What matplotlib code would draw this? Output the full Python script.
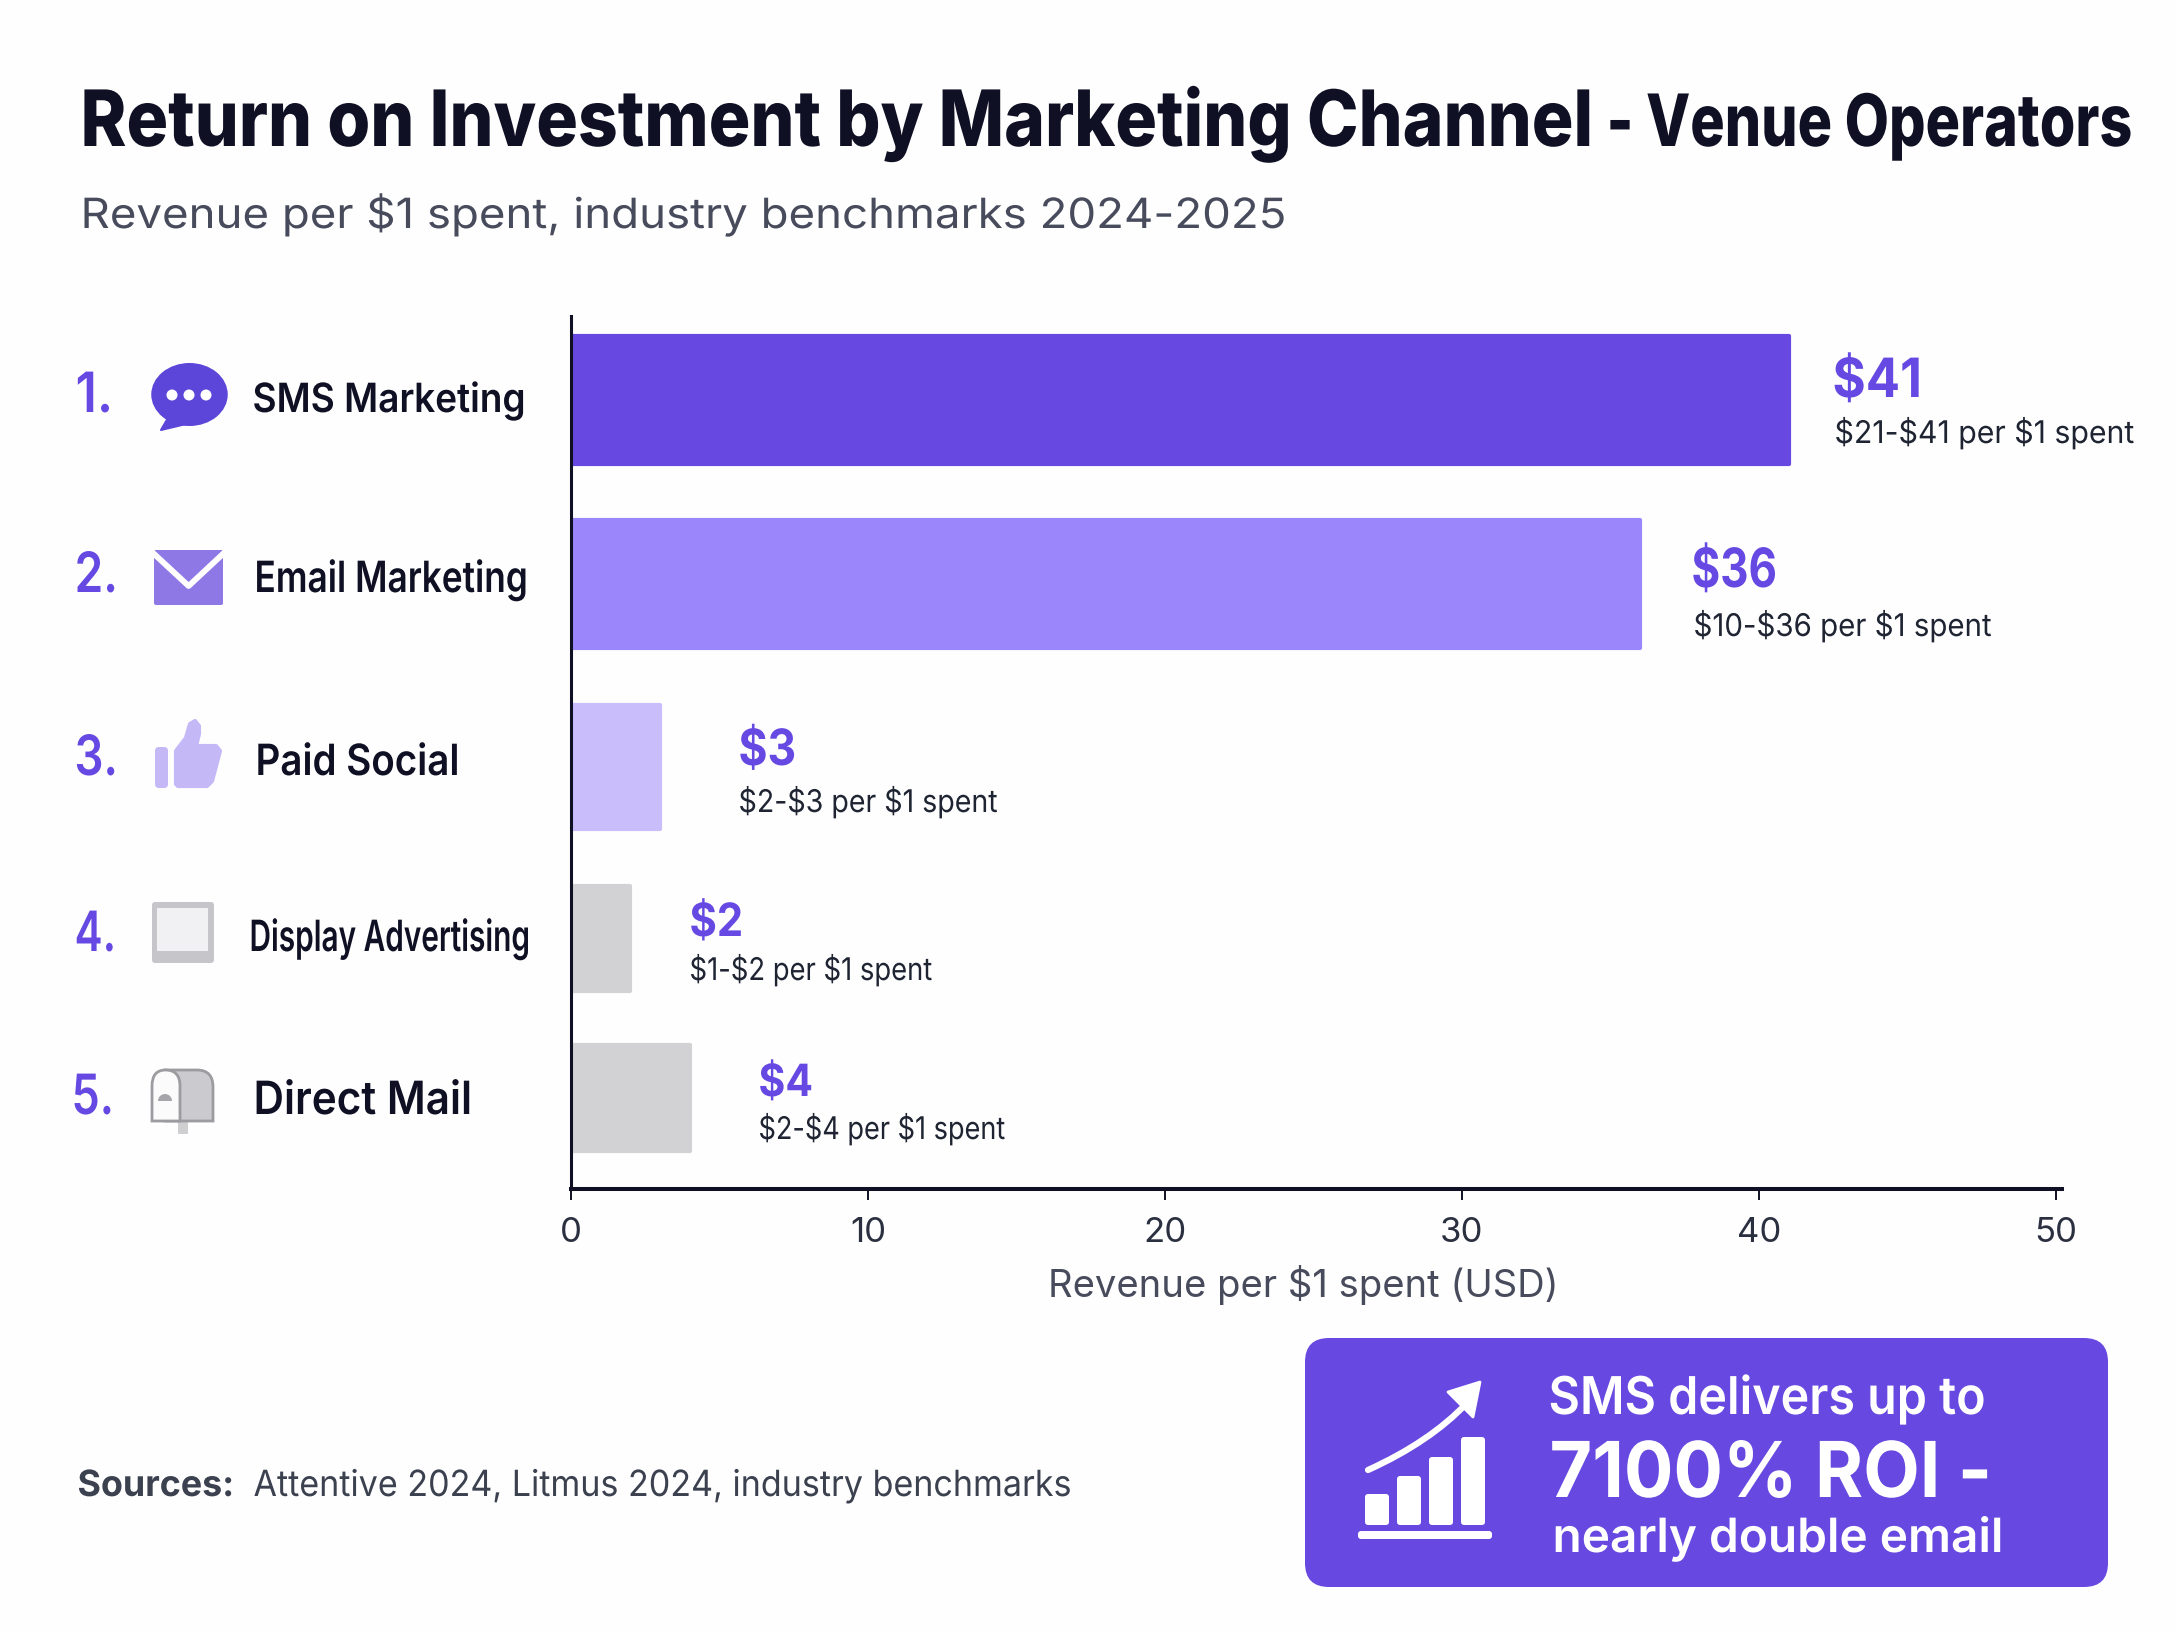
import numpy as np
import matplotlib
matplotlib.use("Agg")
import matplotlib.pyplot as plt
import matplotlib.patches as patches
import matplotlib.patheffects as pe
from matplotlib.path import Path
from matplotlib.transforms import Affine2D

plt.rcParams['font.family'] = ['Inter', 'DejaVu Sans']

channels = ['SMS Marketing', 'Email Marketing', 'Paid Social', 'Display Advertising', 'Direct Mail']
roi = [41, 36, 3, 2, 4]
roi_low = [21, 10, 2, 1, 2]
roi_high = [41, 36, 3, 2, 4]
ticks = [0, 10, 20, 30, 40, 50]

bar_colors = ['#6748e0', '#9b86fb', '#c9bdfb', '#d2d2d4', '#d2d2d4']
PURPLE = '#6549e2'
INK = '#0f1024'
SLATE = '#474b5c'
DARK = '#1f2432'

# everything on the page is laid out in pixels, y going down
W, H = 2176, 1632
bar_tops = [334, 518, 703, 884, 1043]
bar_bottoms = [466, 650, 831, 993, 1153]

# x start, x end, baseline, size
rank_pos = [(78, 113, 412), (77, 118, 592), (77, 118, 775), (77, 116, 951), (74, 114, 1114)]
label_pos = [(255, 526, 412, 29), (257, 528, 592, 31), (258, 459, 775, 31), (252, 530, 951, 31), (256, 472, 1114, 33)]
value_pos = [(1835, 1922, 397, 39), (1694, 1777, 587, 39), (741, 796, 765, 36), (692, 743, 936, 33), (761, 813, 1096, 32)]
range_pos = [(1837, 2134, 443), (1696, 1991, 636), (741, 998, 812), (692, 932, 980), (761, 1005, 1139)]


class Stretch(pe.AbstractPathEffect):
    # scales a text around the start of its baseline
    def __init__(self, sx, sy, x0, y0):
        self.sx = sx
        self.sy = sy
        self.x0 = x0
        self.y0 = y0

    def draw_path(self, renderer, gc, tpath, affine, rgbFace=None):
        t = affine + Affine2D().translate(-self.x0, -self.y0).scale(self.sx, self.sy).translate(self.x0, self.y0)
        renderer.draw_path(gc, tpath, t, rgbFace)


fig = plt.figure(figsize=(W / 100, H / 100), dpi=100, facecolor='#fefefe')

page = fig.add_axes([0, 0, 1, 1])
page.set_xlim(0, W)
page.set_ylim(H, 0)
page.axis('off')

renderer = fig.canvas.get_renderer()


def put(x, x_end, y, s, size, color, weight='normal'):
    # size gives the height; the font is set so the run fills x..x_end
    x = x - 2.5
    t = page.text(x, y, s, fontsize=size, color=color, fontweight=weight,
                  ha='left', va='baseline', parse_math=False, zorder=6)
    target = x_end - x
    fit = size * target / t.get_window_extent(renderer).width
    t.set_fontsize(fit)
    rest = target / t.get_window_extent(renderer).width
    t.set_path_effects([Stretch(rest, size / fit, x, H - y)])
    return t


def shape(verts, codes=None, **kw):
    p = patches.PathPatch(Path(verts, codes), **kw)
    page.add_patch(p)
    return p


# main chart
ax = fig.add_axes([571 / W, 1 - 1189 / H, (2062 - 571) / W, (1189 - 316) / H])
ax.set_facecolor('none')
ax.set_xlim(0, (2062 - 571) / 29.7)
ax.set_ylim(1189, 316)

centers = [(a + b) / 2 for a, b in zip(bar_tops, bar_bottoms)]
heights = [b - a - 4 for a, b in zip(bar_tops, bar_bottoms)]
bars = ax.barh(centers, roi, height=heights, color=bar_colors, edgecolor=bar_colors, linewidth=3)
for b in bars:
    b.set_joinstyle('round')

for s in ['top', 'right']:
    ax.spines[s].set_visible(False)
ax.spines['left'].set_linewidth(2.2)
ax.spines['left'].set_color(INK)
ax.spines['bottom'].set_linewidth(2.9)
ax.spines['bottom'].set_color(INK)
ax.set_yticks([])
ax.set_xticks(ticks)
ax.tick_params(axis='x', length=8, width=1.4, color=INK, pad=12, labelsize=25, labelcolor='#2b3040')
ax.set_xlabel('Revenue per $1 spent (USD)', fontsize=27.5, color=SLATE, labelpad=12, parse_math=False)
ax.xaxis.label.set_x(0.491)

# title block
put(83, 1592, 146, 'Return on Investment by Marketing Channel', 56, INK, 800)
put(1609, 2132, 146, '- Venue Operators', 52, INK, 800)
put(83, 1287, 228, 'Revenue per $1 spent, industry benchmarks 2024-2025', 30, SLATE)

# row labels
for i, name in enumerate(channels):
    x0, x1, y = rank_pos[i]
    put(x0, x1, y, '%d.' % (i + 1), 40, PURPLE, 'semibold')
    x0, x1, y, size = label_pos[i]
    put(x0, x1, y, name, size, INK, 'semibold')

# value labels
for i in range(len(roi)):
    x0, x1, y, size = value_pos[i]
    put(x0, x1, y, '$%d' % roi[i], size, PURPLE, 'bold')
    x0, x1, y = range_pos[i]
    put(x0, x1, y, '$%d-$%d per $1 spent' % (roi_low[i], roi_high[i]), 22.5, DARK)

# speech bubble
page.add_patch(patches.Ellipse((189.5, 394.5), 76.5, 63, color='#5c45d9', lw=0))
page.add_patch(patches.Polygon([(168, 418), (161, 430), (186, 424)], closed=True, fc='#5c45d9', ec='#5c45d9', lw=1.5, joinstyle='round'))
for dot_x in [172, 189, 206]:
    page.add_patch(patches.Circle((dot_x, 395), 5.5, color='white', lw=0))

# envelope
page.add_patch(patches.FancyBboxPatch((155, 551), 67, 53, boxstyle='round,pad=1,rounding_size=2', fc='#8e78e6', ec='none'))
page.plot([152, 188.6, 225], [552, 586, 552], color='white', lw=4.2, solid_joinstyle='round', solid_capstyle='butt')

# thumbs up
page.add_patch(patches.FancyBboxPatch((157, 749), 9, 37, boxstyle='round,pad=2,rounding_size=4', fc='#c4b8f7', ec='none'))
thumb = [(176, 751), (186, 738), (190, 724), (195, 721), (199, 726), (199, 734), (196, 746),
         (216, 746), (220, 751), (212, 781), (207, 786), (178, 786), (176, 784)]
page.add_patch(patches.Polygon(thumb, closed=True, fc='#c4b8f7', ec='#c4b8f7', lw=3, joinstyle='round'))

# monitor
page.add_patch(patches.FancyBboxPatch((153, 903), 60, 59, boxstyle='round,pad=1,rounding_size=3', fc='#c6c6ca', ec='none'))
page.add_patch(patches.Rectangle((157, 908), 51, 43, fc='#f1f1f3', ec='none'))

# mailbox
page.add_patch(patches.Rectangle((177.5, 1122), 10.5, 12, fc='#cfcfd2', ec='none'))
shape([(165, 1070), (197, 1070), (213, 1070), (213, 1087), (213, 1121), (165, 1121), (165, 1070)],
      [Path.MOVETO, Path.LINETO, Path.CURVE3, Path.CURVE3, Path.LINETO, Path.LINETO, Path.CLOSEPOLY],
      fc='#cbcbcf', ec='#9c9ca0', lw=2)
shape([(152, 1121), (152, 1086), (152, 1070), (165.5, 1070), (180, 1070), (180, 1086), (180, 1121), (152, 1121)],
      [Path.MOVETO, Path.LINETO, Path.CURVE3, Path.CURVE3, Path.CURVE3, Path.CURVE3, Path.LINETO, Path.CLOSEPOLY],
      fc='#fbfbfb', ec='#9c9ca0', lw=2)
page.add_patch(patches.Wedge((165, 1101), 7, 180, 360, fc='#a6a6aa', ec='none'))

# sources
put(80, 234, 1496, 'Sources:', 26, '#3c4150', 'bold')
put(256, 1071, 1496, 'Attentive 2024, Litmus 2024, industry benchmarks', 26, '#3c4150')

# callout box
page.add_patch(patches.FancyBboxPatch((1329, 1362), 755, 201, boxstyle='round,pad=24,rounding_size=24', fc='#6748e0', ec='none', zorder=3))
put(1551, 1986, 1414, 'SMS delivers up to', 37.5, 'white', 'semibold')
put(1552, 1992, 1497, '7100% ROI -', 55.5, 'white', 'bold')
put(1555, 2004, 1552, 'nearly double email', 34, 'white', 'semibold')

# growth icon
icon_x = [1365, 1397, 1429, 1461]
icon_top = [1494, 1476, 1457, 1437]
for x, top in zip(icon_x, icon_top):
    page.add_patch(patches.FancyBboxPatch((x + 2, top + 2), 20, 1525 - top - 4, boxstyle='round,pad=2,rounding_size=3', fc='white', ec='none', zorder=4))
page.add_patch(patches.FancyBboxPatch((1360, 1533), 130, 4, boxstyle='round,pad=2,rounding_size=3', fc='white', ec='none', zorder=4))
shape([(1368, 1470), (1430, 1442), (1467, 1403)], [Path.MOVETO, Path.CURVE3, Path.CURVE3],
      fc='none', ec='white', lw=4.5, capstyle='round', zorder=4)
page.add_patch(patches.Polygon([(1480, 1382), (1448, 1392), (1473, 1417)], closed=True, fc='white', ec='white', lw=2, joinstyle='round', zorder=4))

fig.savefig('out.png', dpi=100, facecolor=fig.get_facecolor())
